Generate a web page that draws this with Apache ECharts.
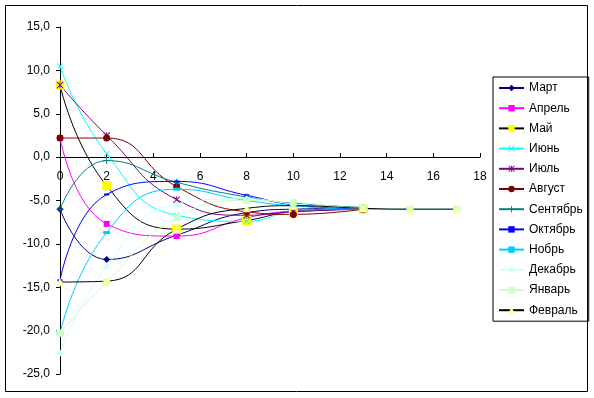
<!DOCTYPE html>
<html>
<head>
<meta charset="utf-8">
<script src="https://cdn.jsdelivr.net/npm/echarts@6/dist/echarts.min.js"></script>
<style>
    html, body { margin: 0; padding: 0; background: #fff; }
    #chart { width: 594px; height: 398px; }
</style>
</head>
<body>
<div id="chart"></div>
<script>
// x positions of the points
const xPoints = [0, 2, 5, 8, 10, 13, 15, 17];
const monthNames = ['Март', 'Апрель', 'Май', 'Июнь', 'Июль', 'Август', 'Сентябрь', 'Октябрь', 'Нобрь', 'Декабрь', 'Январь', 'Февраль'];

const mart = [-6.0, -11.8, -9.0, -6.4, -6.0, -5.9];
const aprel = [2.2, -7.7, -9.1, -7.0, -6.2, -5.9];
const mai = [8.3, -3.3, -8.3, -7.3, -6.3, -6.0];
const iyun = [10.5, 0.4, -6.7, -7.4, -6.3, -6.0];
const iyul = [8.3, 2.5, -4.9, -6.7, -6.3, -6.0];
const avgust = [2.2, 2.2, -3.4, -6.3, -6.6, -6.0];
const sentyabr = [-6.0, -0.4, -2.9, -4.6, -5.3, -5.8];
const oktyabr = [-14.2, -4.3, -2.8, -4.4, -5.5, -6.0];
const noyabr = [-20.3, -8.7, -3.7, -5.0, -5.6, -6.0, -6.0, -6.0];
const dekabr = [-22.6, -12.6, -5.4, -4.8, -5.4, -5.9];
const yanvar = [-20.3, -14.4, -7.0, -5.0, -5.2, -5.9, -6.0, -6.0];
const fevral = [-14.4, -14.3, -8.3, -5.9, -5.6, -5.9, -6.0, -6.0];

const yMin = -25, yMax = 15;

const xMark = 'path://M0,1L1,0L5,4L9,0L10,1L6,5L10,9L9,10L5,6L1,10L0,9L4,5Z';
const plusMark = 'path://M4.3,0H5.7V4.3H10V5.7H5.7V10H4.3V5.7H0V4.3H4.3Z';
const starMark = 'path://M0,1L1,0L4.4,3.4V0H5.6V3.4L9,0L10,1L6,5L10,9L9,10L5.6,6.6V10H4.4V6.6L1,10L0,9L4,5Z';

// line colour, marker colour, marker, marker size
const styles = [
    ['#000080', '#000080', 'diamond', 7],
    ['#FF00FF', '#FF00FF', 'rect', 6],
    ['#000000', '#FFFF00', 'rect', 9],
    ['#00FFFF', '#00FFFF', xMark, 6],
    ['#800080', '#800080', starMark, 7],
    ['#800000', '#800000', 'circle', 7],
    ['#008080', '#008080', plusMark, 7],
    ['#0000FF', '#0000FF', 'rect', [5, 2]],
    ['#00CCFF', '#00CCFF', 'rect', [7, 3]],
    ['#CCFFFF', '#CCFFFF', 'diamond', 7],
    ['#CCFFCC', '#CCFFCC', 'rect', 7],
    ['#000000', '#FFFF99', 'triangle', 8]
];
const values = [mart, aprel, mai, iyun, iyul, avgust, sentyabr, oktyabr, noyabr, dekabr, yanvar, fevral];

const gridTop = 27, gridBottom = 24;
const plotH = 398 - gridTop - gridBottom;
// move the x axis (line, ticks, labels) up to y = 0
const xAxisOffset = -Math.round(plotH * (0 - yMin) / (yMax - yMin));

const chart = echarts.init(document.getElementById('chart'));
chart.setOption({
    backgroundColor: '#fff',
    animation: false,
    textStyle: { fontFamily: 'Arial, "Liberation Sans", sans-serif' },
    graphic: [{
        type: 'rect',
        shape: { x: 5.5, y: 5.5, width: 582, height: 386 },
        style: { fill: 'none', stroke: '#000', lineWidth: 1 },
        z: -1
    }],
    grid: { left: 60, right: 114, top: gridTop, bottom: gridBottom },
    legend: {
        orient: 'vertical',
        left: 493,
        top: 77,
        padding: [5, 6, 5, 5],
        borderColor: '#000',
        borderWidth: 1,
        itemWidth: 25,
        itemHeight: 8,
        itemGap: 8.2,
        textStyle: { fontSize: 12, color: '#000' },
        data: monthNames
    },
    xAxis: {
        type: 'value',
        min: 0,
        max: 18,
        interval: 2,
        position: 'bottom',
        offset: xAxisOffset,
        axisLine: { onZero: false, lineStyle: { color: '#000', width: 1 } },
        axisTick: { inside: true, length: 4, lineStyle: { color: '#000' } },
        axisLabel: { color: '#000', fontSize: 12, margin: 14 },
        splitLine: { show: false }
    },
    yAxis: {
        type: 'value',
        min: yMin,
        max: yMax,
        interval: 5,
        axisLine: { show: true, lineStyle: { color: '#000', width: 1 } },
        axisTick: { show: true, length: 4, lineStyle: { color: '#000' } },
        axisLabel: {
            color: '#000',
            fontSize: 12,
            margin: 10,
            formatter: v => v.toFixed(1).replace('.', ',')
        },
        splitLine: { show: false }
    },
    series: values.map((vals, i) => ({
        name: monthNames[i],
        type: 'line',
        smooth: 0.5,
        symbol: styles[i][2],
        symbolSize: styles[i][3],
        showAllSymbol: true,
        lineStyle: { color: styles[i][0], width: 1 },
        itemStyle: { color: styles[i][1], borderWidth: 0 },
        data: vals.map((v, j) => [xPoints[j], v])
    }))
});
</script>
</body>
</html>
